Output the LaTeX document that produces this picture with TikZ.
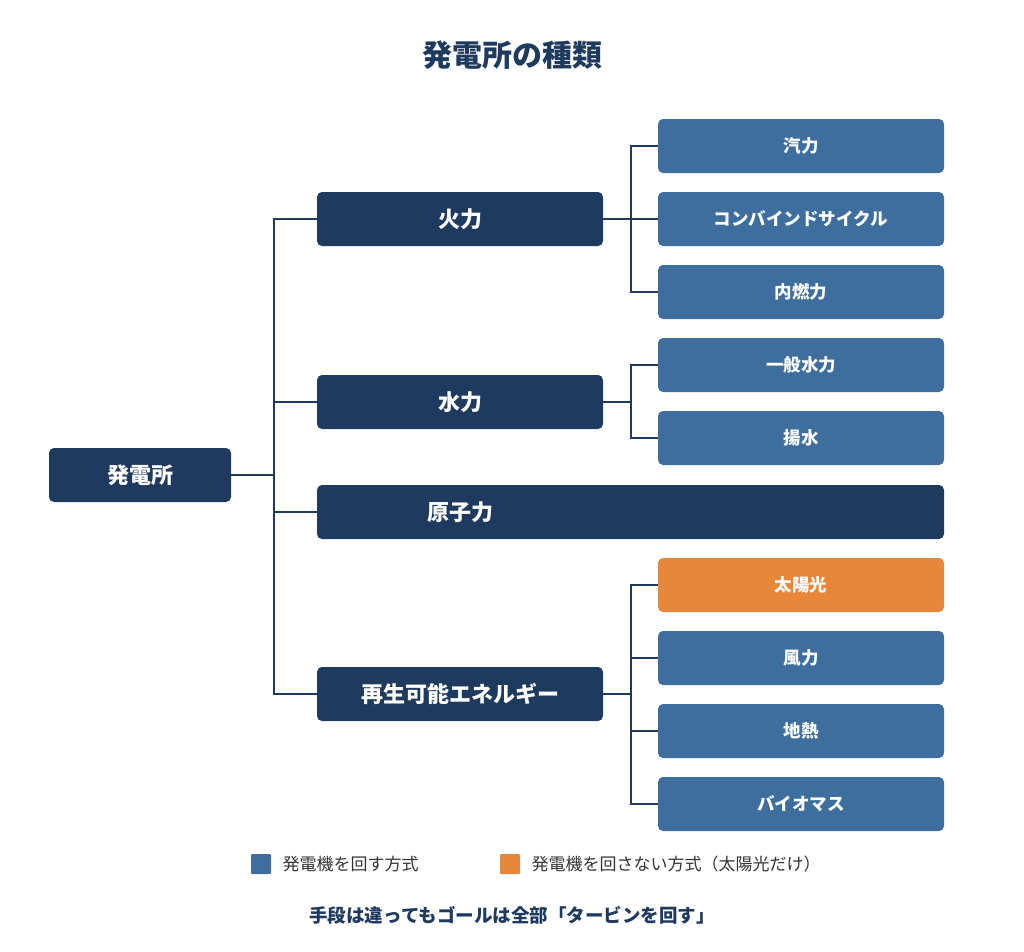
\documentclass[tikz,border=0pt]{standalone}
\usepackage{fontspec}
\setmainfont{Noto Sans CJK JP}
\usetikzlibrary{positioning}
\definecolor{navy}{HTML}{1F3A5F}
\definecolor{steel}{HTML}{3E6E9E}
\definecolor{sun}{HTML}{E8863A}
\definecolor{ink}{HTML}{1F3A5F}
\tikzset{
  box/.style={rounded corners=5pt, text=white, font=\bfseries, inner sep=0pt, minimum height=54pt},
  main/.style={box, fill=navy, minimum width=286pt, font=\bfseries\fontsize{22}{26}\selectfont},
  sub/.style={box, fill=steel, minimum width=286pt, font=\bfseries\fontsize{17.5}{21}\selectfont},
  link/.style={draw=navy, line width=1.5pt}
}
\begin{document}
\begin{tikzpicture}[x=1pt,y=-1pt]
\useasboundingbox (0,0) rectangle (1024,951);
\node[text=ink, font=\bfseries\fontsize{30}{34}\selectfont] (title) at (512,55) {発電所の種類};
% root
\node[main, minimum width=182pt] (root) at (140,475) {発電所};
\coordinate (trunk) at (274,475);
% second level
\node[main] (fire) at (460,219) {火力};
\node[main] (water) at (460,402) {水力};
\node[box, fill=navy, minimum width=627pt, font=\bfseries\fontsize{22}{26}\selectfont] (nuke) at (630.5,512) {\hspace*{-341pt}原子力};
\node[main] (renew) at (460,694) {再生可能エネルギー};
% third level
\node[sub] (steam) at (801,146) {汽力};
\node[sub] (combi) at (801,219) {コンバインドサイクル};
\node[sub] (engine) at (801,292) {内燃力};
\node[sub] (hydro) at (801,365) {一般水力};
\node[sub] (pump) at (801,438) {揚水};
\node[sub, fill=sun] (solar) at (801,585) {太陽光};
\node[sub] (wind) at (801,658) {風力};
\node[sub] (geo) at (801,731) {地熱};
\node[sub] (bio) at (801,804) {バイオマス};
% connectors
\draw[link] (root.east) -- (trunk);
\foreach \n in {fire,water,nuke,renew}
  \draw[link] (274,219) |- (\n.west) (trunk) |- (\n.west);
\coordinate (jf) at (631,219);
\coordinate (jw) at (631,402);
\coordinate (jr) at (631,694);
\draw[link] (fire.east) -- (jf);
\draw[link] (water.east) -- (jw);
\draw[link] (renew.east) -- (jr);
\foreach \n in {steam,combi,engine} \draw[link] (jf) |- (\n.west);
\foreach \n in {hydro,pump} \draw[link] (jw) |- (\n.west);
\foreach \n in {solar,wind,geo,bio} \draw[link] (jr) |- (\n.west);
% legend
\node[fill=steel, minimum size=20pt, inner sep=0pt, rounded corners=1pt] (keya) at (261,864) {};
\node[right=8pt of keya, font=\fontsize{17}{20}\selectfont, text=black!80] {発電機を回す方式};
\node[fill=sun, minimum size=20pt, inner sep=0pt, rounded corners=1pt] (keyb) at (510,864) {};
\node[right=8pt of keyb, font=\fontsize{17}{20}\selectfont, text=black!80] {発電機を回さない方式（太陽光だけ）};
\node[text=ink, font=\bfseries\fontsize{18.5}{22}\selectfont] (note) at (512,915) {手段は違ってもゴールは全部「タービンを回す」};
\end{tikzpicture}
\end{document}
